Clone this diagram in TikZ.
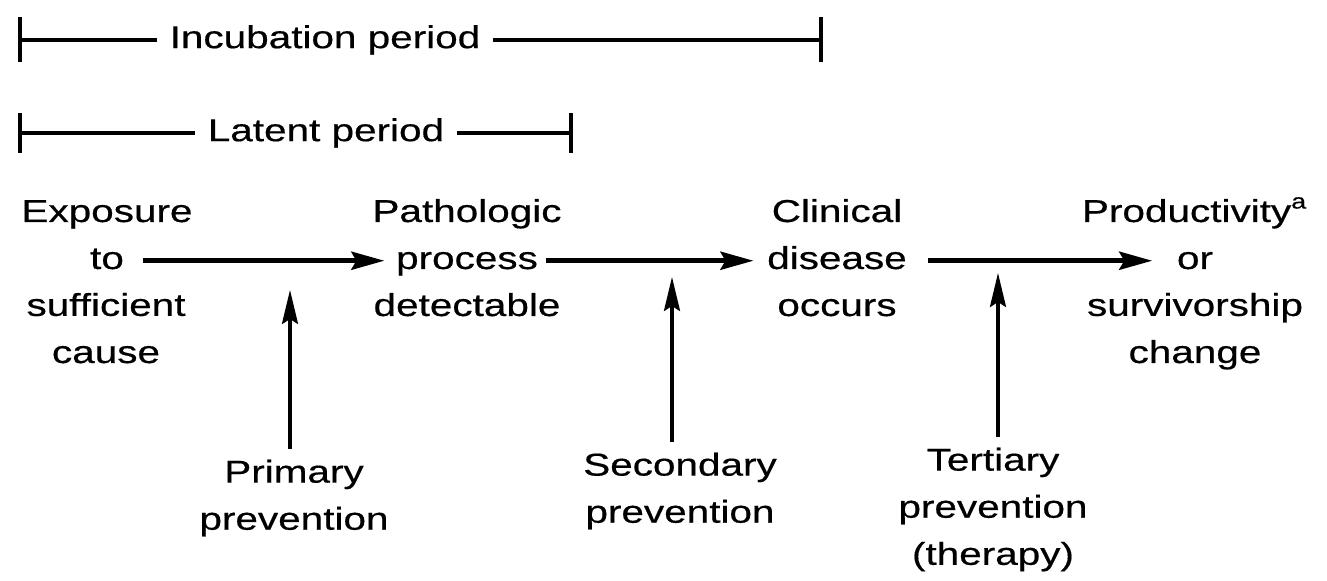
\documentclass[tikz,border=0pt]{standalone}
\usepackage{fontspec}
\setmainfont{Liberation Sans}[FakeStretch=1.28,FakeBold=0.5]
\usetikzlibrary{arrows.meta}
\tikzset{
  lbl/.style={font=\fontsize{9}{13.4}\selectfont,align=center,inner sep=0pt},
  mid/.style={lbl,text height=6.3pt,text depth=1.6pt},
  period/.style={lbl,inner sep=3.4pt},
  flow/.style={-{Stealth[length=3.3mm,width=1.8mm,inset=0.5mm]},line width=1.4pt},
  prev/.style={-{Stealth[length=3.4mm,width=1.6mm,inset=0.5mm]},line width=0.95pt},
  span/.style={line width=1.1pt}
}
\begin{document}
\begin{tikzpicture}[x=1.0cm,y=1.0cm]
\useasboundingbox (0,0) rectangle (13.27,-5.81);
\node[period] (incub) at (3.25,-0.40) {Incubation period};
\coordinate (incubS) at (0.18,-0.40);
\coordinate (incubE) at (8.23,-0.40);
\draw[span,{Bar[width=4.5mm]}-] (incubS) -- (incub);
\draw[span,-{Bar[width=4.5mm]}] (incub) -- (incubE);
\node[period] (latent) at (3.26,-1.33) {Latent period};
\coordinate (latentS) at (0.18,-1.33);
\coordinate (latentE) at (5.73,-1.33);
\draw[span,{Bar[width=4.0mm]}-] (latentS) -- (latent);
\draw[span,-{Bar[width=4.0mm]}] (latent) -- (latentE);
\node[lbl,anchor=base] (expoTop) at (1.07,-2.22) {Exposure};
\node[mid,anchor=base] (expo) at (1.07,-2.69) {to};
\node[lbl,anchor=base] (expoBot) at (1.06,-3.63) {sufficient\\cause};
\node[lbl,anchor=base] (pathTop) at (4.67,-2.22) {Pathologic};
\node[mid,anchor=base] (path) at (4.67,-2.69) {process};
\node[lbl,anchor=base] (pathBot) at (4.67,-3.16) {detectable};
\node[lbl,anchor=base] (clinTop) at (8.37,-2.22) {Clinical};
\node[mid,anchor=base] (clin) at (8.37,-2.69) {disease};
\node[lbl,anchor=base] (clinBot) at (8.37,-3.16) {occurs};
\node[lbl,anchor=base] (prodTop) at (11.95,-2.22) {Productivity\textsuperscript{a}};
\node[mid,anchor=base] (prod) at (11.95,-2.69) {or};
\node[lbl,anchor=base] (prodBot) at (11.95,-3.63) {survivorship\\change};
\draw[flow,shorten <=1.8mm,shorten >=1.1mm] (expo) -- (path);
\draw[flow,shorten <=0.7mm,shorten >=1.3mm] (path) -- (clin);
\draw[flow,shorten <=2.1mm,shorten >=2.4mm] (clin) -- (prod);
\node[lbl,anchor=north] (prim) at (2.94,-4.59) {Primary\\prevention};
\coordinate (primTip) at (2.90,-2.90);
\draw[prev,shorten <=1mm] (prim.north -| primTip) -- (primTip);
\node[lbl,anchor=north] (sec) at (6.80,-4.52) {Secondary\\prevention};
\coordinate (secTip) at (6.72,-2.77);
\draw[prev,shorten <=1mm] (sec.north -| secTip) -- (secTip);
\node[lbl,anchor=north] (tert) at (9.93,-4.47) {Tertiary\\prevention\\(therapy)};
\coordinate (tertTip) at (9.98,-2.73);
\draw[prev,shorten <=1mm] (tert.north -| tertTip) -- (tertTip);
\end{tikzpicture}
\end{document}
